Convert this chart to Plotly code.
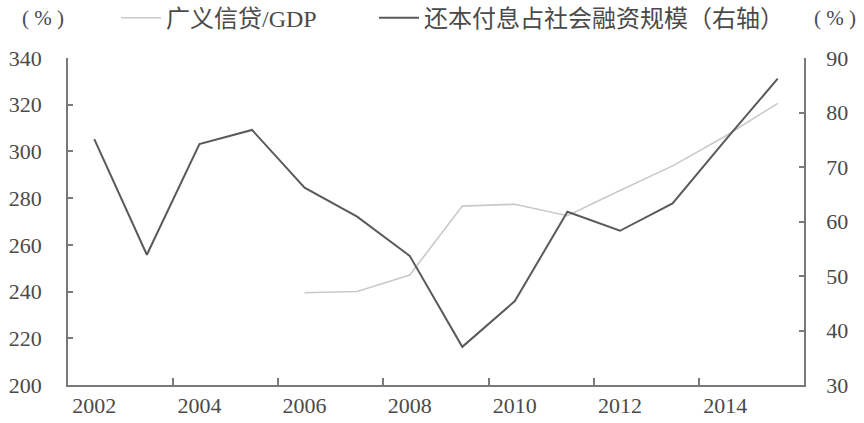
import plotly.graph_objects as go

years = list(range(2002, 2016))
credit_years = list(range(2006, 2016))
credit_gdp = [239.5, 240.0, 247.1, 276.6, 277.4, 272.5, 283.3, 293.8, 306.5, 320.6]
debt_service = [75.1, 53.9, 74.2, 76.8, 66.2, 60.9, 53.7, 37.0, 45.4, 61.8, 58.3, 63.3, 74.9, 86.2]

left_ticks = list(range(200, 341, 20))
right_ticks = list(range(30, 91, 10))
x_label_years = list(range(2002, 2015, 2))
x_tick_marks = [y + 1.5 for y in range(2002, 2014, 2)]

FONT = "Liberation Serif, Noto Sans CJK SC, serif"
TXT = "#4a4a4a"
AX = "#7a7a7a"

fig = go.Figure()
fig.add_trace(go.Scatter(
    x=credit_years, y=credit_gdp, name="广义信贷/GDP", mode="lines",
    line=dict(color="#c9c9c9", width=1.6), yaxis="y", legend="legend"))
fig.add_trace(go.Scatter(
    x=years, y=debt_service, name="还本付息占社会融资规模（右轴）", mode="lines",
    line=dict(color="#5a5a5a", width=2), yaxis="y2", legend="legend2"))
fig.add_trace(go.Scatter(x=[years[0]], y=[left_ticks[0]], xaxis="x2", yaxis="y",
                         mode="markers", marker=dict(opacity=0), showlegend=False,
                         hoverinfo="skip"))

leg_common = dict(orientation="h", xref="container", yref="container", y=0.957,
                  xanchor="left", yanchor="middle", font=dict(size=24, color=TXT),
                  bgcolor="rgba(0,0,0,0)", itemwidth=40)

fig.update_layout(
    width=864, height=423,
    margin=dict(l=68, r=60, t=58, b=38, autoexpand=False),
    paper_bgcolor="white", plot_bgcolor="white",
    font=dict(family=FONT, size=22, color=TXT),
    showlegend=True,
    legend=dict(x=116 / 864, **leg_common),
    legend2=dict(x=374 / 864, **leg_common),
    xaxis=dict(range=[2001.5, 2015.5], tickvals=x_label_years, ticks="",
               showline=True, linecolor=AX, linewidth=1.5, showgrid=False,
               zeroline=False, tickfont=dict(size=22, color=TXT), automargin=False),
    xaxis2=dict(range=[2001.5, 2015.5], overlaying="x", anchor="y", tickvals=x_tick_marks,
                ticks="inside", ticklen=7, tickcolor=AX, tickwidth=1.5,
                showticklabels=False, showline=False, showgrid=False, zeroline=False,
                automargin=False),
    yaxis=dict(range=[200, 340], tickvals=left_ticks, ticks="inside", ticklen=5,
               tickcolor=AX, tickwidth=1.5, showline=True, linecolor=AX, linewidth=1.5,
               showgrid=False, zeroline=False, tickfont=dict(size=22, color=TXT),
               ticklabelstandoff=20, automargin=False),
    yaxis2=dict(range=[30, 90], tickvals=right_ticks, ticks="inside", ticklen=5,
                tickcolor=AX, tickwidth=1.5, showline=True, linecolor=AX, linewidth=1.5,
                showgrid=False, zeroline=False, overlaying="y", side="right",
                tickfont=dict(size=22, color=TXT), ticklabelstandoff=16, automargin=False),
)
pct = "(\u00a0%\u00a0)"
fig.add_annotation(text=pct, xref="paper", x=0, xshift=-25, yref="paper", y=1.0, yshift=40,
                   showarrow=False, font=dict(size=21, color=TXT), xanchor="center",
                   yanchor="middle")
fig.add_annotation(text=pct, xref="paper", x=1, xshift=31, yref="paper", y=1.0, yshift=40,
                   showarrow=False, font=dict(size=21, color=TXT), xanchor="center",
                   yanchor="middle")

fig.write_html("out.html", config={"displayModeBar": False},
               post_script="document.body.style.margin='0';")
